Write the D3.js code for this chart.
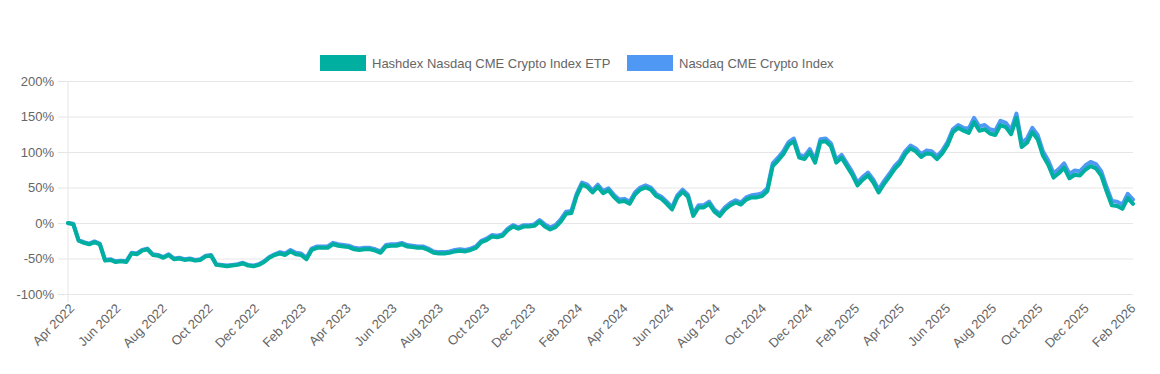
<!DOCTYPE html>
<html>
<head>
<meta charset="utf-8">
<script src="https://cdn.jsdelivr.net/npm/d3@7"></script>
<style>
  body { margin: 0; background: #fff; }
  text { font-family: "Liberation Sans", Arial, sans-serif; }
</style>
</head>
<body>
<svg id="chart" width="1160" height="374"></svg>
<script>
// Series names and colours
const seriesNames = ['Hashdex Nasdaq CME Crypto Index ETP', 'Nasdaq CME Crypto Index'];
const seriesColors = ['#00af9f', '#4f98f3'];

// Weekly observations starting 1 Apr 2022
const startDate = new Date(2022, 3, 1);

// Hashdex ETP, cumulative return in %
const etpValues = [0,-2,-25,-28,-30,-27,-30,-53,-52,-55,
  -54,-55,-43,-44,-39,-37,-45,-46,-49,-45,
  -51,-50,-52,-51,-53,-52,-47,-46,-59,-60,
  -61,-60,-59,-57,-60,-61,-59,-55,-49,-45,
  -43,-45,-40,-44,-45,-51,-38,-35,-35,-35,
  -30,-32,-33,-34,-37,-38,-37,-37,-39,-42,
  -33,-32,-32,-30,-33,-34,-35,-35,-38,-42,
  -43,-43,-42,-40,-39,-40,-38,-35,-27,-24,
  -19,-20,-18,-10,-5,-8,-5,-5,-4,2,
  -5,-9,-6,2,13,14,38,54,51,43,
  51,42,46,37,30,31,27,40,47,50,
  47,38,34,27,19,36,44,37,10,22,
  22,27,16,10,19,25,29,26,33,36,
  36,38,45,80,88,97,110,115,92,90,
  100,85,114,115,108,85,92,80,68,53,
  61,67,57,43,55,65,76,84,97,105,
  101,93,98,97,90,98,110,128,134,130,
  127,142,130,132,126,124,138,135,125,148,
  107,113,128,118,95,82,64,70,78,63,
  68,67,75,80,77,67,45,25,24,20,
  35,27];

// Nasdaq CME Crypto Index, cumulative return in %
const indexValues = [0,-1,-24,-27,-29,-26,-29,-52,-51,-54,
  -53,-54,-42,-43,-38,-36,-44,-45,-48,-44,
  -50,-49,-51,-50,-52,-51,-46,-45,-58,-59,
  -60,-59,-58,-56,-59,-60,-58,-54,-48,-44,
  -41,-43,-38,-42,-43,-49,-36,-33,-33,-33,
  -28,-30,-31,-32,-35,-36,-35,-35,-37,-40,
  -31,-30,-30,-28,-31,-32,-33,-33,-36,-40,
  -41,-41,-40,-38,-37,-38,-36,-33,-25,-22,
  -17,-18,-16,-8,-3,-6,-3,-3,-2,4,
  -2,-6,-3,5,16,17,41,57,54,46,
  54,45,49,40,33,34,30,43,50,53,
  50,41,37,30,22,39,47,40,13,25,
  25,30,19,13,22,28,32,29,36,39,
  40,42,49,84,92,101,114,119,96,94,
  104,89,118,119,112,89,96,84,72,57,
  65,71,61,47,59,69,80,88,101,109,
  105,97,102,101,94,102,114,132,138,134,
  133,148,136,138,132,130,144,141,131,154,
  113,119,134,124,101,88,70,76,84,69,
  74,73,81,86,83,73,51,31,30,26,
  41,33];

// Y axis ticks (%)
const yTicks = [-100, -50, 0, 50, 100, 150, 200];

const dates = etpValues.map((d, i) => d3.timeDay.offset(startDate, 7 * i));

const margin = { top: 81, right: 27, bottom: 80, left: 68 };
const svgWidth = 1160, svgHeight = 374;
const width = svgWidth - margin.left - margin.right;
const height = 294 - margin.top;

const svg = d3.select('#chart');
const g = svg.append('g').attr('transform', `translate(${margin.left},${margin.top})`);

const x = d3.scaleTime()
  .domain([dates[0], dates[dates.length - 1]])
  .range([0, width]);

const y = d3.scaleLinear()
  .domain([-100, 200])
  .range([height, 0]);

// horizontal grid + y axis labels
const yAxis = d3.axisLeft(y)
  .tickValues(yTicks)
  .tickSize(-(width + 10))
  .tickPadding(4)
  .tickFormat(d => d + '%');

g.append('g')
  .attr('transform', 'translate(-10,0)')
  .call(yAxis)
  .call(s => s.select('.domain').remove())
  .call(s => s.selectAll('line').attr('stroke', '#e6e6e6'))
  .call(s => s.selectAll('text')
    .attr('fill', '#666')
    .style('font-size', '13px'));

// left axis line
g.append('line')
  .attr('x1', 0).attr('x2', 0)
  .attr('y1', 0).attr('y2', height + 8)
  .attr('stroke', '#e6e6e6');

// x axis labels, every two months
const xTicks = d3.timeMonth.range(new Date(2022, 3, 1), new Date(2026, 2, 1), 2);
const fmt = d3.timeFormat('%b %Y');

g.append('g')
  .selectAll('text')
  .data(xTicks)
  .enter()
  .append('text')
  .attr('transform', d => `translate(${x(d) + 4},${height + 12}) rotate(-45)`)
  .attr('text-anchor', 'end')
  .attr('dy', '0.35em')
  .attr('fill', '#666')
  .style('font-size', '13px')
  .text(d => fmt(d));

// lines: index behind, ETP on top
const line = d3.line()
  .x((d, i) => x(dates[i]))
  .y(d => y(d));

[indexValues, etpValues].forEach((vals, k) => {
  g.append('path')
    .datum(vals)
    .attr('fill', 'none')
    .attr('stroke', seriesColors[1 - k])
    .attr('stroke-width', 4)
    .attr('stroke-linejoin', 'round')
    .attr('stroke-linecap', 'round')
    .attr('d', line);
});

// legend
const legendX = [320, 627];
const legend = svg.append('g');
seriesNames.forEach((name, i) => {
  legend.append('rect')
    .attr('x', legendX[i]).attr('y', 55)
    .attr('width', 46).attr('height', 16)
    .attr('fill', seriesColors[i]);
  legend.append('text')
    .attr('x', legendX[i] + 52).attr('y', 63)
    .attr('dy', '0.35em')
    .attr('fill', '#666')
    .style('font-size', '13px')
    .text(name);
});
</script>
</body>
</html>
